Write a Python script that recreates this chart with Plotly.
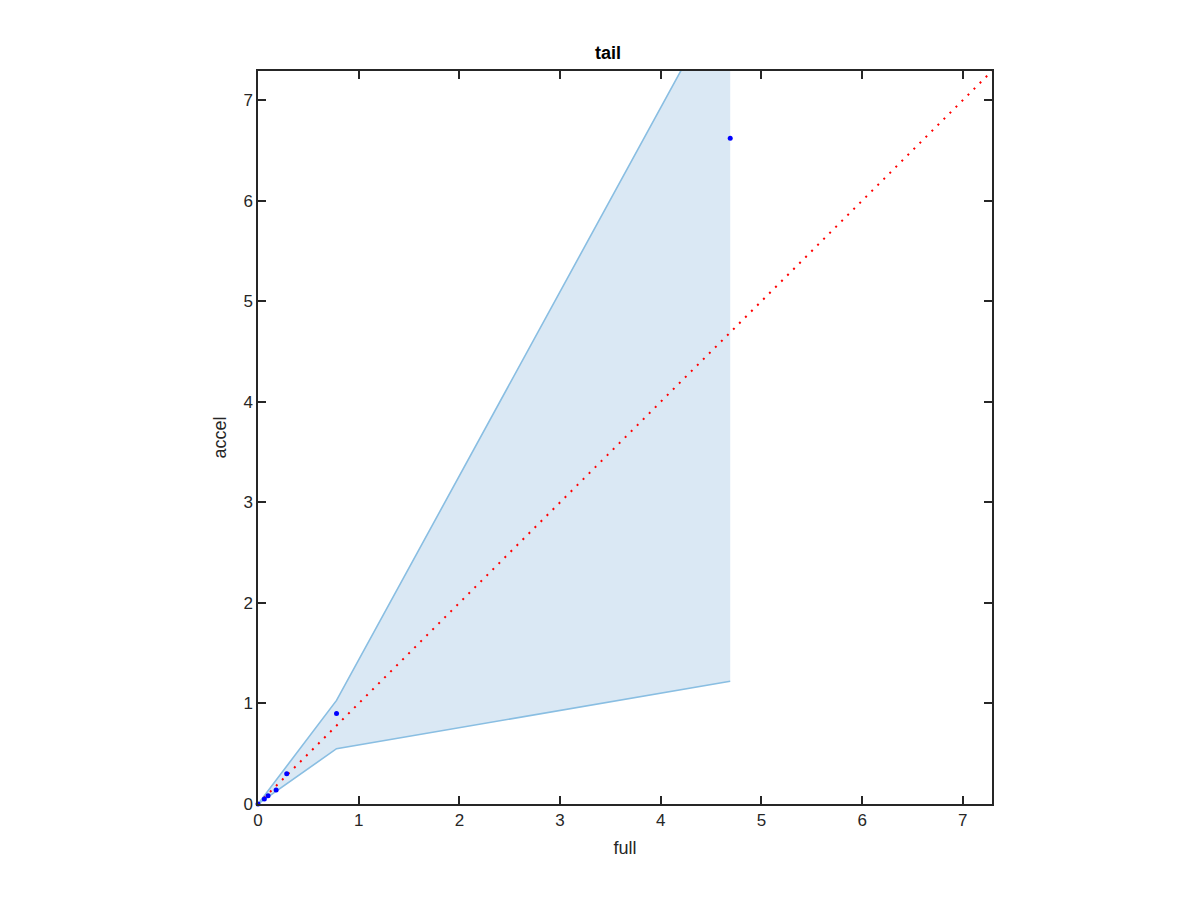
import plotly.graph_objects as go

# data
full = [0.0, 0.063, 0.10, 0.18, 0.285, 0.78, 4.69]
accel = [0.0, 0.05, 0.083, 0.14, 0.30, 0.90, 6.62]
upper = [0.0, 0.083, 0.132, 0.238, 0.376, 1.03, 8.19]
lower = [0.0, 0.044, 0.070, 0.127, 0.20, 0.55, 1.22]
ref_line = [0, 7.3]
ticks = [0, 1, 2, 3, 4, 5, 6, 7]

fig = go.Figure()
fig.add_trace(go.Scatter(x=full + full[::-1], y=upper + lower[::-1], fill="toself",
                         fillcolor="rgb(218,232,244)", line=dict(width=0),
                         mode="lines", hoverinfo="skip", showlegend=False))
fig.add_trace(go.Scatter(x=full, y=upper, mode="lines",
                         line=dict(color="rgb(137,190,226)", width=1.6), showlegend=False))
fig.add_trace(go.Scatter(x=full, y=lower, mode="lines",
                         line=dict(color="rgb(137,190,226)", width=1.6), showlegend=False))
fig.add_trace(go.Scatter(x=ref_line, y=ref_line, mode="lines",
                         line=dict(color="red", width=2, dash="2px,6.5px"), showlegend=False))
fig.add_trace(go.Scatter(x=full, y=accel, mode="markers", cliponaxis=False,
                         marker=dict(color="blue", size=5), showlegend=False))

axis_common = dict(range=[0, 7.29], tickvals=ticks, ticks="inside", ticklen=8, tickwidth=1.5,
                   tickcolor="#262626", showline=True, linecolor="#262626", linewidth=1.5,
                   mirror="allticks", showgrid=False, zeroline=False,
                   tickfont=dict(size=17, color="#262626", family="Liberation Sans, Arial"))

fig.update_xaxes(**axis_common, title=dict(text="full", font=dict(size=18, color="#262626"), standoff=12))
fig.update_yaxes(**axis_common, title=dict(text="accel", font=dict(size=18, color="#262626"), standoff=12))

fig.update_layout(
    width=1200, height=900,
    margin=dict(l=250, r=216, t=63, b=104),
    plot_bgcolor="white", paper_bgcolor="white",
    font=dict(family="Liberation Sans, Arial", color="#262626"),
    title=dict(text="<b>tail</b>", x=0.5, xanchor="center", y=1 - 45 / 900, yanchor="middle",
               font=dict(size=18, color="black")),
)

fig.write_html("out.html")
